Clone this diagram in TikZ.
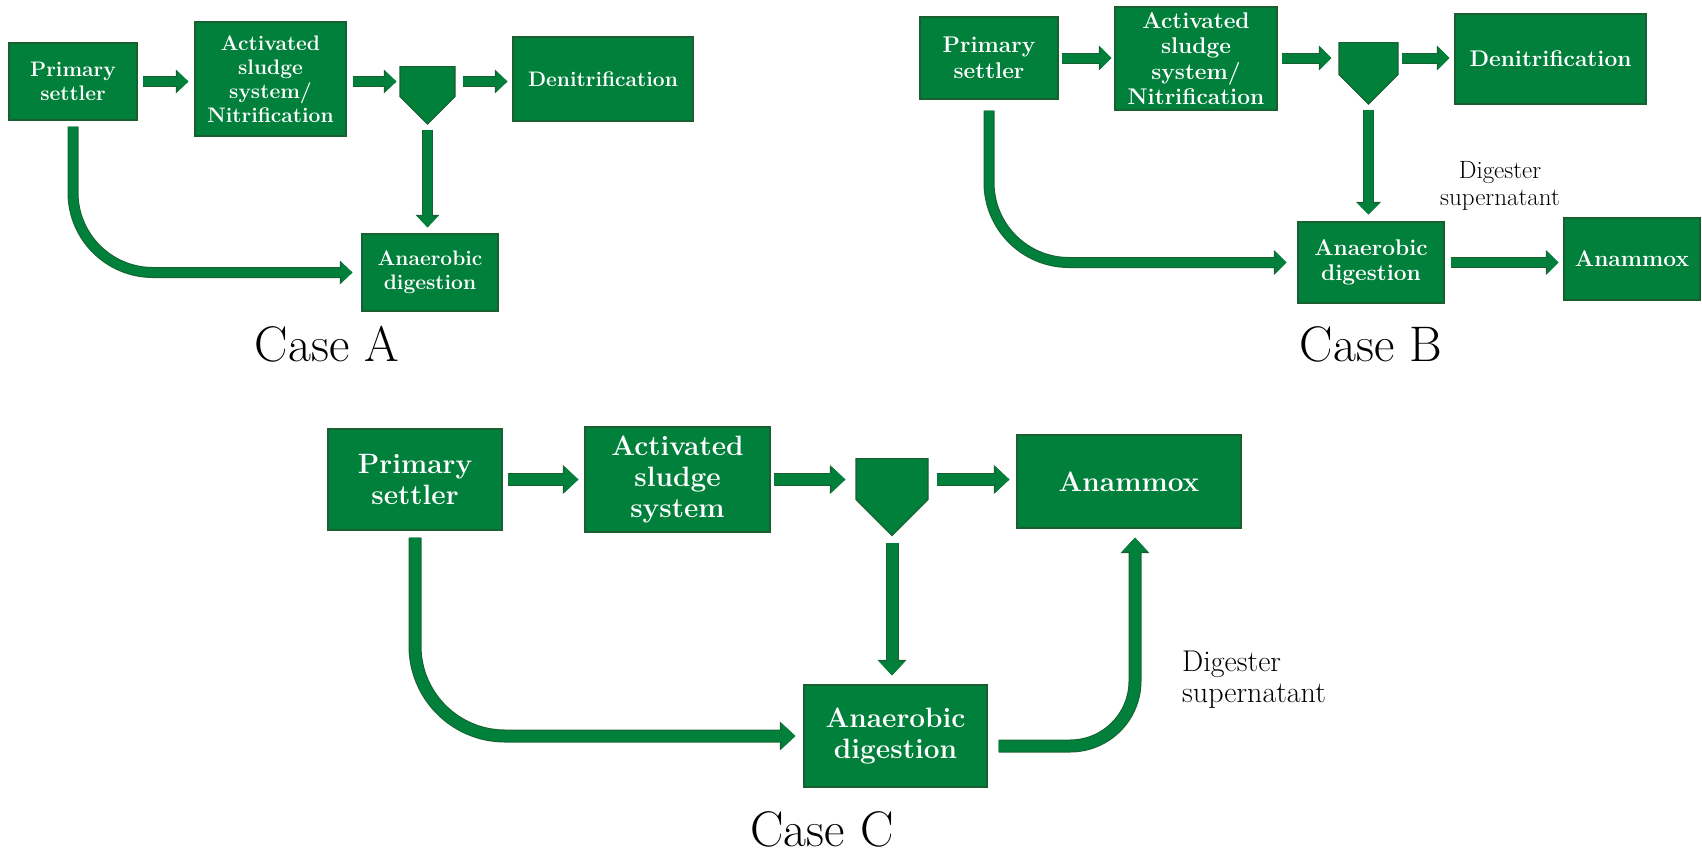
\documentclass[tikz,border=0pt]{standalone}
\usepackage{fontspec}
\usepackage{tikz}
\usetikzlibrary{arrows.meta,shapes.symbols}
\definecolor{plantgreen}{RGB}{0,128,58}
\definecolor{plantdark}{RGB}{24,96,48}

\begin{document}
\begin{tikzpicture}[x=1pt,y=-1pt,
  unit/.style={draw=plantdark, line width=1.2pt, fill=plantgreen, text=white, align=center, inner sep=0pt},
  unitA/.style={unit, font=\fontsize{21}{24}\selectfont\bfseries},
  unitB/.style={unit, font=\fontsize{22.7}{25.5}\selectfont\bfseries},
  unitC/.style={unit, font=\fontsize{28}{31}\selectfont\bfseries},
  clarifier/.style={shape=signal, signal to=south, signal pointer angle=90, draw=plantdark, line width=1.2pt, fill=plantgreen, inner sep=0pt, anchor=north},
  flowA/.style={draw=plantgreen, line width=9pt, -{Triangle[length=11pt,width=20pt]},
    preaction={draw=plantdark, line width=11pt, -{Triangle[length=12.5pt,width=23pt]}}},
  flowB/.style={draw=plantgreen, line width=9pt, -{Triangle[length=11pt,width=21pt]},
    preaction={draw=plantdark, line width=11pt, -{Triangle[length=12.5pt,width=24pt]}}},
  flowC/.style={draw=plantgreen, line width=11pt, -{Triangle[length=14pt,width=25pt]},
    preaction={draw=plantdark, line width=13pt, -{Triangle[length=15.5pt,width=28pt]}}},
  caselabel/.style={font=\fontsize{50}{58}\selectfont, inner sep=0pt},
  notelabel/.style={inner sep=0pt}
]
\useasboundingbox (0,0) rectangle (1702,852);

% Case A
\node[unitA, minimum width=128, minimum height=77] (psA) at (73,81.5) {Primary\\settler};
\node[unitA, minimum width=151, minimum height=114] (asA) at (270.5,79) {Activated\\sludge\\system/\\Nitrification};
\node[clarifier, minimum width=55, minimum height=30] (clA) at (427.5,66) {};
\node[unitA, minimum width=180, minimum height=84] (dnA) at (603,79) {Denitrification};
\node[unitA, minimum width=136, minimum height=77] (adA) at (430,272.5) {Anaerobic\\digestion};
\node[caselabel, anchor=base] (capA) at (327,361) {Case A};

\draw[flowA, shorten <=5pt, shorten >=6pt] (psA.east) -- (psA.east -| asA.west);
\draw[flowA, shorten <=6pt, shorten >=3pt] (asA.east |- psA.east) -- (psA.east -| clA.west);
\draw[flowA, shorten <=7pt, shorten >=5pt] (clA.east |- psA.east) -- (psA.east -| dnA.west);
\draw[flowA, shorten <=5pt, shorten >=6pt] (clA.south) -- (clA.south |- adA.north);
\draw[flowA, rounded corners=80pt, shorten <=6pt, shorten >=9pt] (psA.south) |- (adA.west);

% Case B
\node[unitB, minimum width=138, minimum height=82] (psB) at (989,58) {Primary\\settler};
\node[unitB, minimum width=162, minimum height=103] (asB) at (1196,58.5) {Activated\\sludge\\system/\\Nitrification};
\node[clarifier, minimum width=59, minimum height=32] (clB) at (1368.5,42) {};
\node[unitB, minimum width=191, minimum height=90] (dnB) at (1550.5,59) {Denitrification};
\node[unitB, minimum width=146, minimum height=81] (adB) at (1371,262.5) {Anaerobic\\digestion};
\node[unitB, minimum width=136, minimum height=82] (amB) at (1632,259) {Anammox};
\node[notelabel, font=\fontsize{25}{27}\selectfont, align=center, anchor=north] (dsB) at (1500,161) {Digester\\supernatant};
\node[caselabel, anchor=base] (capB) at (1371,361) {Case B};

\draw[flowB, shorten <=3pt, shorten >=3pt] (psB.east) -- (psB.east -| asB.west);
\draw[flowB, shorten <=4pt, shorten >=7pt] (asB.east |- psB.east) -- (psB.east -| clB.west);
\draw[flowB, shorten <=3pt, shorten >=5pt] (clB.east |- psB.east) -- (psB.east -| dnB.west);
\draw[flowB, shorten <=5pt, shorten >=7pt] (clB.south) -- (clB.south |- adB.north);
\draw[flowB, shorten <=6pt, shorten >=5pt] (adB.east) -- (adB.east -| amB.west);
\draw[flowB, rounded corners=80pt, shorten <=11pt, shorten >=11pt] (psB.south) |- (adB.west);

% Case C
\node[unitC, minimum width=174, minimum height=101] (psC) at (415,479.5) {Primary\\settler};
\node[unitC, minimum width=185, minimum height=105] (asC) at (677.5,479.5) {Activated\\sludge\\system};
\node[clarifier, minimum width=72, minimum height=41] (clC) at (892,458) {};
\node[unitC, minimum width=224, minimum height=93] (amC) at (1129,481.5) {Anammox};
\node[unitC, minimum width=183, minimum height=102] (adC) at (895.5,736) {Anaerobic\\digestion};
\node[notelabel, font=\fontsize{30}{31}\selectfont, align=left, anchor=north west] (dsC) at (1182,651) {Digester\\supernatant};
\node[caselabel, anchor=base] (capC) at (822,846) {Case C};

\draw[flowC, shorten <=5pt, shorten >=6pt] (psC.east) -- (psC.east -| asC.west);
\draw[flowC, shorten <=3pt, shorten >=10pt] (asC.east |- psC.east) -- (psC.east -| clC.west);
\draw[flowC, shorten <=8pt, shorten >=7pt] (clC.east |- psC.east) -- (psC.east -| amC.west);
\draw[flowC, shorten <=7pt, shorten >=9pt] (clC.south) -- (clC.south |- adC.north);
\draw[flowC, rounded corners=90pt, shorten <=7pt, shorten >=8pt] (psC.south) |- (adC.west);
\draw[flowC, rounded corners=65pt, shorten <=11pt, shorten >=9pt] ([yshift=-10pt]adC.east) -| ([xshift=6pt]amC.south);
\end{tikzpicture}
\end{document}
